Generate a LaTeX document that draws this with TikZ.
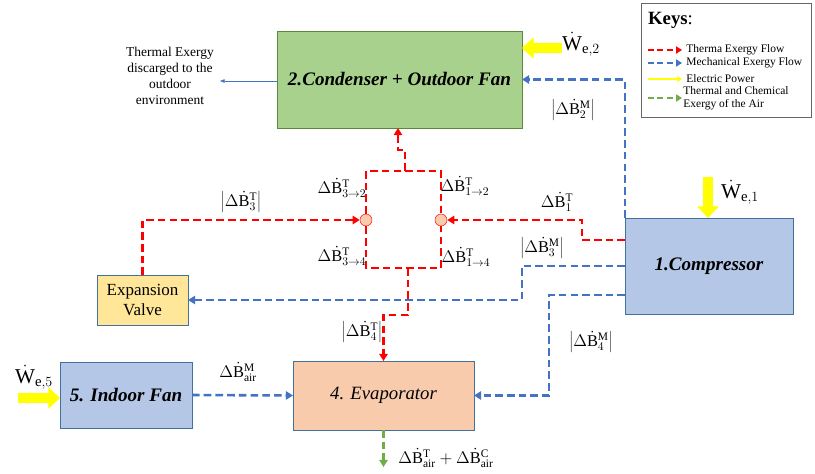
\documentclass[tikz,border=0pt]{standalone}
\usepackage{fontspec}
\setmainfont{Liberation Serif}
\setmathrm{Liberation Serif}
\usetikzlibrary{arrows.meta}
\definecolor{thermred}{HTML}{FF0000}
\definecolor{mechblue}{HTML}{4472C4}
\definecolor{airgreen}{HTML}{70AD47}
\definecolor{powyellow}{HTML}{FFFF00}
\definecolor{condfill}{HTML}{A9D18E}
\definecolor{unitfill}{HTML}{B4C7E7}
\definecolor{valvefill}{HTML}{FFE699}
\definecolor{evapfill}{HTML}{F8CBAD}
\definecolor{unitline}{HTML}{41719C}

\begin{document}
\begin{tikzpicture}[x=0.03cm,y=-0.03cm,
  unit/.style={draw=unitline,fill=unitfill,inner sep=0pt,outer sep=0pt,align=center},
  thermal/.style={draw=thermred,line width=2.2pt,dash pattern=on 6.5pt off 3.5pt},
  mech/.style={draw=mechblue,line width=2.2pt,dash pattern=on 6.5pt off 3.5pt},
  air/.style={draw=airgreen,line width=2.2pt,dash pattern=on 6.5pt off 3.5pt},
  power/.style={draw=powyellow,line width=8pt,-{Triangle[length=10pt,width=18pt]}},
  tip/.style={-{Triangle[length=6pt,width=7pt]}},
  lbl/.style={font=\fontsize{14}{16}\selectfont,inner sep=1pt}]
\useasboundingbox (0,0) rectangle (815,473);

% components
\node[unit,draw=airgreen!80!black,fill=condfill,minimum width=7.35cm,minimum height=2.91cm,
  font=\fontsize{16.3}{18}\selectfont\bfseries\itshape] (cond) at (399.5,79.5) {2.Condenser + Outdoor Fan};
\node[unit,minimum width=5.04cm,minimum height=2.88cm,
  font=\fontsize{16.3}{18}\selectfont\bfseries\itshape] (comp) at (709,266) {1.Compressor};
\node[unit,fill=valvefill,minimum width=2.73cm,minimum height=1.5cm,
  font=\fontsize{14.5}{17}\selectfont] (valve) at (142.5,300) {Expansion\\Valve};
\node[unit,minimum width=3.96cm,minimum height=1.98cm,
  font=\fontsize{16.3}{18}\selectfont\bfseries\itshape] (fan) at (126,395) {5. Indoor Fan};
\node[unit,fill=evapfill,minimum width=5.43cm,minimum height=2.07cm,
  font=\fontsize{16}{18}\selectfont\itshape] (evap) at (383.5,395.5) {4. Evaporator};

% junctions
\node[circle,draw=thermred,fill=evapfill,minimum size=0.36cm,inner sep=0pt] (j3) at (366,220) {};
\node[circle,draw=thermred,fill=evapfill,minimum size=0.36cm,inner sep=0pt] (j1) at (441,220) {};
\coordinate (top) at (405,171);
\coordinate (bot) at (408,268);

% thermal exergy
\draw[thermal] (j3.north) -- (366,171) -- (441,171) -- (j1.north);
\draw[thermal] (j3.south) -- (366,268) -- (441,268) -- (j1.south);
\draw[thermal,tip] (top) -- (405,150) -- (398,150) -- (cond.south -| 398,0);
\draw[thermal,tip] ([yshift=0.78cm]comp.west) -| (582,220) -- (j1.east);
\draw[thermal,tip] (valve.north) |- (j3.west);
\draw[thermal,tip] (bot) -- (408,315) -| (evap.north);

% mechanical exergy
\draw[mech,tip] (comp.north west) |- (cond.east);
\draw[mech,tip] (comp.west) -| (522,300) -- (valve.east);
\draw[mech,tip] ([yshift=-0.87cm]comp.west) -| (549,395.5) -- (evap.east);
\draw[mech,tip] (fan.east) -- (evap.west);

% air exergy
\draw[air,tip] (evap.south) -- ++(0,37);

% electric power
\coordinate (w2) at (562,48);
\coordinate (w1) at (708,177);
\coordinate (w5) at (18,398);
\draw[power] (w2) -- (cond.east |- w2);
\draw[power] (w1) -- (comp.north -| w1);
\draw[power] (w5) -- (fan.west |- w5);

% outdoor heat
\draw[mechblue,-{Triangle[length=4pt,width=3pt]}] (cond.west |- 0,81) -- (220,81);
\node[align=center,font=\fontsize{11.5}{13.5}\selectfont] (dump) at (170,76)
  {Thermal Exergy\\discarged to the\\outdoor\\environment};

% labels
\node[lbl,font=\fontsize{18}{20}\selectfont] (lw2) at (581,44) {$\dot{\mathrm{W}}_{\mathrm{e},2}$};
\node[lbl,font=\fontsize{18}{20}\selectfont] (lw1) at (740,192) {$\dot{\mathrm{W}}_{\mathrm{e},1}$};
\node[lbl,font=\fontsize{18}{20}\selectfont] (lw5) at (34,377) {$\dot{\mathrm{W}}_{\mathrm{e},5}$};
\node[lbl] (lb2m) at (573,110) {$\left|\Delta\dot{\mathrm{B}}^{\mathrm{M}}_{2}\right|$};
\node[lbl] (lb3m) at (542,248) {$\left|\Delta\dot{\mathrm{B}}^{\mathrm{M}}_{3}\right|$};
\node[lbl] (lb4m) at (591,342) {$\left|\Delta\dot{\mathrm{B}}^{\mathrm{M}}_{4}\right|$};
\node[lbl] (lbam) at (238,372) {$\Delta\dot{\mathrm{B}}^{\mathrm{M}}_{\mathrm{air}}$};
\node[lbl] (lb1t) at (557,202) {$\Delta\dot{\mathrm{B}}^{\mathrm{T}}_{1}$};
\node[lbl] (lb3t) at (241,202) {$\left|\Delta\dot{\mathrm{B}}^{\mathrm{T}}_{3}\right|$};
\node[lbl] (lb4t) at (362,332) {$\left|\Delta\dot{\mathrm{B}}^{\mathrm{T}}_{4}\right|$};
\node[lbl] (lb32) at (342,188) {$\Delta\dot{\mathrm{B}}^{\mathrm{T}}_{3\to2}$};
\node[lbl] (lb12) at (465,186) {$\Delta\dot{\mathrm{B}}^{\mathrm{T}}_{1\to2}$};
\node[lbl] (lb34) at (342,256) {$\Delta\dot{\mathrm{B}}^{\mathrm{T}}_{3\to4}$};
\node[lbl] (lb14) at (466,257) {$\Delta\dot{\mathrm{B}}^{\mathrm{T}}_{1\to4}$};
\node[lbl,anchor=west] (lbair) at (397,458) {$\Delta\dot{\mathrm{B}}^{\mathrm{T}}_{\mathrm{air}}+\Delta\dot{\mathrm{B}}^{\mathrm{C}}_{\mathrm{air}}$};

% keys
\node[draw=gray!80!black,line width=0.8pt,minimum width=5.1cm,minimum height=3.42cm,inner sep=0pt] (keys) at (726,60) {};
\node[anchor=west,font=\fontsize{16}{18}\selectfont] (keyt) at (644,20) {\textbf{Keys}:};
\foreach \y/\s in {50/thermal,63/mech,98/air}
  \draw[\s,line width=2pt,dash pattern=on 5pt off 3pt,-{Triangle[length=5pt,width=6pt]}] (648,\y) -- (682,\y);
\draw[powyellow,line width=2.5pt,-{Triangle[length=4pt,width=5pt]}] (648,79) -- (682,79);
\node[anchor=west,font=\fontsize{9.8}{11}\selectfont,inner sep=1pt] (k1) at (685,50) {Therma Exergy Flow};
\node[anchor=west,font=\fontsize{9.8}{11}\selectfont,inner sep=1pt] (k2) at (685,63) {Mechanical Exergy Flow};
\node[anchor=west,font=\fontsize{9.8}{11}\selectfont,inner sep=1pt] (k3) at (685,79) {Electric Power};
\node[anchor=west,font=\fontsize{9.8}{11.5}\selectfont,inner sep=1pt,align=left] (k4) at (682,98) {Thermal and Chemical\\Exergy of the Air};
\end{tikzpicture}
\end{document}
